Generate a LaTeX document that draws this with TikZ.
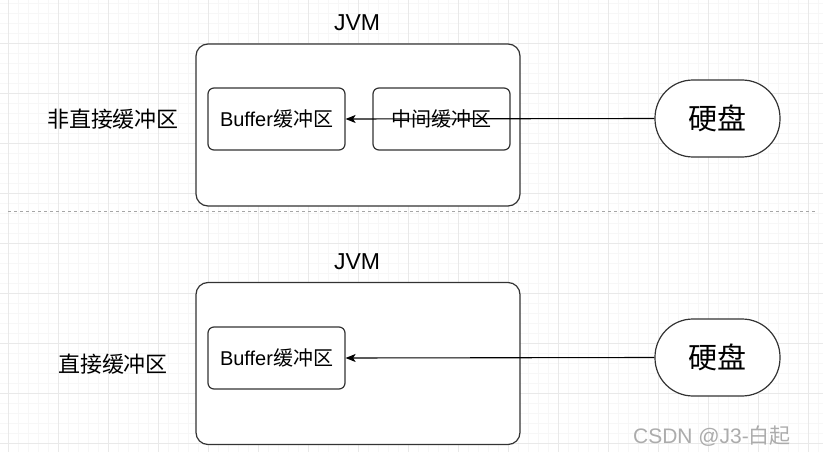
\documentclass[tikz,border=0pt]{standalone}
\usepackage{fontspec}
\setmainfont{Liberation Sans}
\newfontfamily\cjk{Noto Sans CJK SC}
\usetikzlibrary{arrows.meta}
\newcommand{\zh}[1]{{\cjk #1}}
\definecolor{gridmajor}{HTML}{E9E9E9}
\definecolor{gridminor}{HTML}{F7F7F7}
\definecolor{linec}{HTML}{333333}
\begin{document}
\begin{tikzpicture}[x=1pt,y=-1pt,
  minorgrid/.style={draw=gridminor,line width=0.6pt},
  majorgrid/.style={draw=gridmajor,line width=0.8pt},
  jvmbox/.style={draw=linec,line width=1.2pt,rounded corners=12pt,fill=white,minimum width=324pt,minimum height=162pt,inner sep=0pt},
  bufbox/.style={draw=linec,line width=1.2pt,rounded corners=6pt,fill=white,minimum width=137pt,minimum height=62pt,inner sep=0pt,font=\fontsize{20}{24}\selectfont},
  disk/.style={draw=linec,line width=1.2pt,rounded corners=38pt,fill=white,minimum width=125pt,minimum height=77pt,inner sep=0pt,font=\fontsize{29}{34}\selectfont\cjk},
  lbl/.style={inner sep=0pt,font=\fontsize{22}{26}\selectfont},
  flow/.style={draw=black,line width=1.1pt,-{Stealth[length=10pt,width=8pt,inset=2.5pt]}}
]
\useasboundingbox (0,0) rectangle (823,452);
\fill[white] (0,0) rectangle (823,452);
% grid
\foreach \x in {8,18,...,818} \draw[minorgrid] (\x,0) -- (\x,452);
\foreach \y in {3,13,...,452} \draw[minorgrid] (0,\y) -- (823,\y);
\foreach \x in {8,58,...,818} \draw[majorgrid] (\x,0) -- (\x,452);
\foreach \y in {43,93,...,452} \draw[majorgrid] (0,\y) -- (823,\y);
% separator
\draw[draw=gray!70,line width=0.8pt,dash pattern=on 3pt off 3pt] (8,211) -- (815,211);

% top section
\node[lbl,font=\fontsize{23}{27}\selectfont] (jvmlabel1) at (357,23) {JVM};
\node[jvmbox] (jvm1) at (358,125) {};
\node[bufbox] (buf1) at (276.5,119) {Buffer\zh{缓冲区}};
\node[bufbox] (mid1) at (441.5,119) {\zh{中间缓冲区}};
\node[disk] (disk1) at (717.5,118.5) {硬盘};
\node[lbl] (lab1) at (113,119) {\zh{非直接缓冲区}};
\draw[flow] (disk1.west) -- (buf1.east);

% bottom section
\node[lbl,font=\fontsize{23}{27}\selectfont] (jvmlabel2) at (357,262) {JVM};
\node[jvmbox] (jvm2) at (358,363.5) {};
\node[bufbox] (buf2) at (276.5,358) {Buffer\zh{缓冲区}};
\node[disk] (disk2) at (717.5,357.5) {硬盘};
\node[lbl] (lab2) at (113,364) {\zh{直接缓冲区}};
\draw[flow] (disk2.west) -- (buf2.east);

% watermark
\node[inner sep=0pt,text=gray!65,font=\fontsize{21}{25}\selectfont] (wm) at (712,436) {CSDN @J3-\zh{白起}};
\end{tikzpicture}
\end{document}
